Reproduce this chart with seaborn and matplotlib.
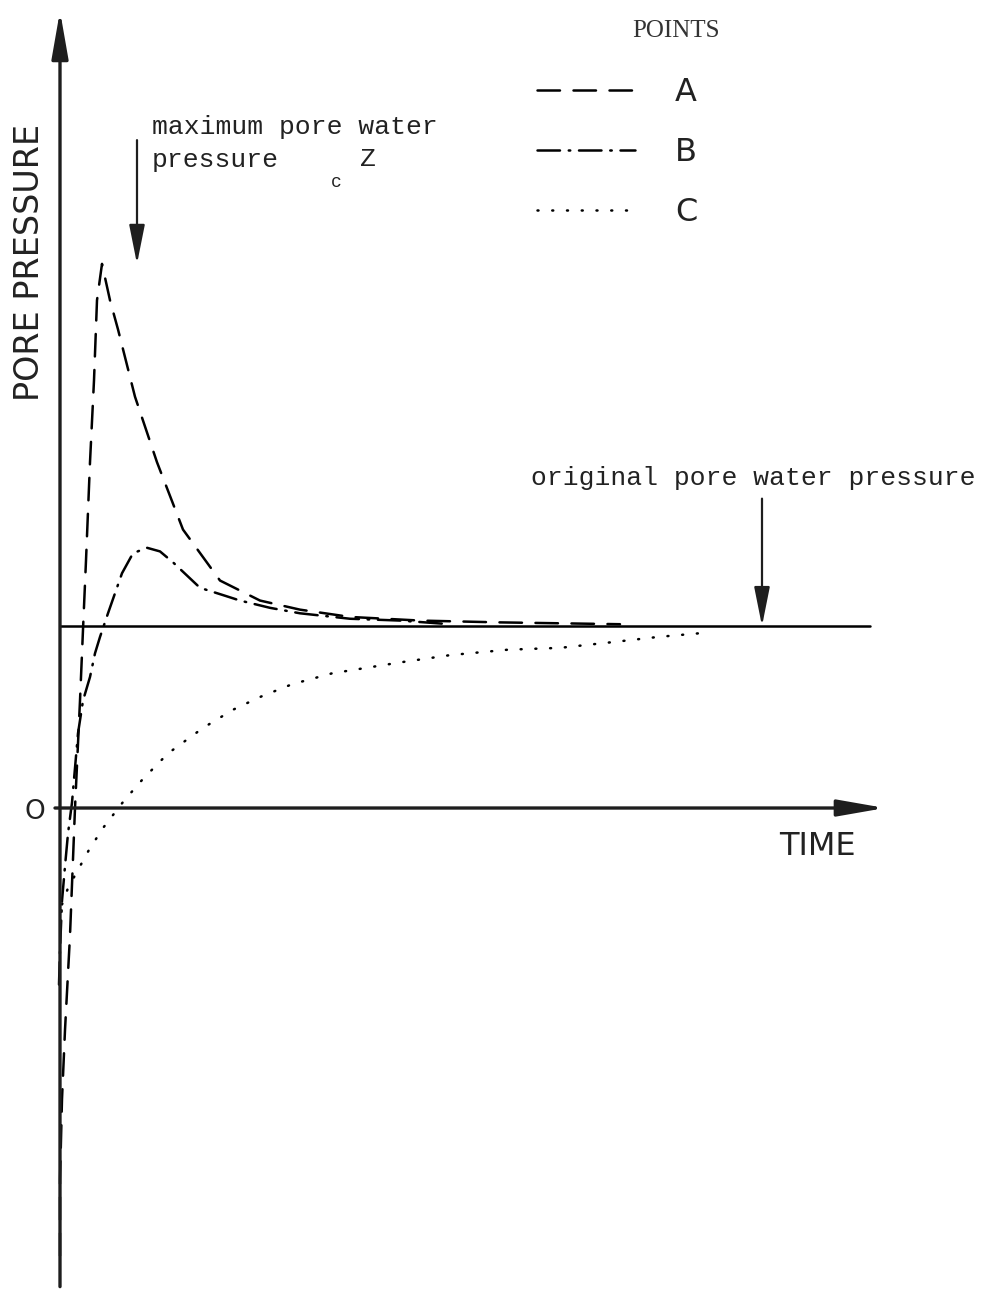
import matplotlib
matplotlib.use("Agg")
import matplotlib.pyplot as plt
import seaborn as sns
import pandas as pd
from matplotlib.lines import Line2D

# ---- data (time in arbitrary units, pressure normalised so original level = 1) ----
time_A = [0.00, 0.00, 0.02, 0.05, 0.10, 0.15, 0.20, 0.23, 0.26, 0.30, 0.34, 0.37, 0.42,
          0.50, 0.58, 0.75, 0.97, 1.23, 1.60, 2.00, 2.40, 2.90, 3.60, 4.40, 5.60]
pressure_A = [-2.46, -2.04, -1.60, -1.22, -0.70, 0.00, 0.59, 0.98, 1.36, 1.90, 2.35, 2.79, 2.99,
              2.79, 2.63, 2.26, 1.90, 1.53, 1.25, 1.14, 1.09, 1.05, 1.03, 1.02, 1.01]

time_B = [-0.01, 0.00, 0.02, 0.05, 0.08, 0.12, 0.18, 0.23, 0.30, 0.35, 0.40, 0.48, 0.62,
          0.73, 0.87, 1.00, 1.13, 1.40, 1.63, 1.80, 2.10, 2.40, 2.90, 3.40, 3.90]
pressure_B = [-0.97, -0.78, -0.51, -0.32, -0.14, 0.03, 0.41, 0.59, 0.72, 0.85, 0.94, 1.07, 1.29,
              1.40, 1.43, 1.41, 1.35, 1.21, 1.17, 1.14, 1.10, 1.07, 1.04, 1.03, 1.01]

time_C = [0.02, 0.08, 0.17, 0.29, 0.43, 0.64, 0.83, 1.08, 1.43, 1.73, 2.00, 2.32, 2.72,
          3.40, 3.90, 4.48, 5.00, 5.50, 5.98, 6.39]
pressure_C = [-0.53, -0.44, -0.35, -0.23, -0.11, 0.04, 0.16, 0.30, 0.44, 0.54, 0.61, 0.68, 0.74,
              0.80, 0.84, 0.87, 0.88, 0.91, 0.94, 0.96]

point_labels = ["A", "B", "C"]
original_level = 1.0
original_line_end = 8.1
time_axis_end = 8.25
max_marker_time = 0.77
orig_marker_time = 7.02

# ---- style ----
sns.set_theme(style="white")
plt.rcParams["font.family"] = ["DejaVu Sans"]

W, H = 986, 1293
fig = plt.figure(figsize=(W / 100, H / 100), dpi=100)
ax = fig.add_axes([0, 0, 1, 1])
ax.set_xlim(-0.6, 9.26)
ax.set_ylim(-2.665, 4.44)
ax.axis("off")

df = pd.concat([
    pd.DataFrame({"time": time_A, "pressure": pressure_A, "point": "A"}),
    pd.DataFrame({"time": time_B, "pressure": pressure_B, "point": "B"}),
    pd.DataFrame({"time": time_C, "pressure": pressure_C, "point": "C"}),
], ignore_index=True)

dash_map = {"A": (9, 5.4), "B": (9, 3.5, 0.6, 3.5), "C": (0.4, 5.5)}
sns.lineplot(data=df, x="time", y="pressure", style="point", dashes=dash_map,
             color="black", sort=False, estimator=None, lw=1.8, legend=False, ax=ax)
for ln in ax.lines:
    ln.set_dash_capstyle("round")

# original pore water pressure line
ax.plot([0, original_line_end], [original_level, original_level], color="black", lw=1.8)

# axes with arrows
ax.annotate("", xy=(0, 4.38), xytext=(0, -2.63),
            arrowprops=dict(arrowstyle="-|>,head_length=2.4,head_width=0.42",
                            lw=2.4, color="#1e1e1e", shrinkA=0, shrinkB=0))
ax.annotate("", xy=(time_axis_end, 0), xytext=(-0.05, 0),
            arrowprops=dict(arrowstyle="-|>,head_length=2.4,head_width=0.42",
                            lw=2.4, color="#1e1e1e", shrinkA=0, shrinkB=0))

# annotation arrows
ax.annotate("", xy=(max_marker_time, 2.99), xytext=(max_marker_time, 3.67),
            arrowprops=dict(arrowstyle="-|>,head_length=2.0,head_width=0.4",
                            lw=1.6, color="#1e1e1e", shrinkA=0, shrinkB=0))
ax.annotate("", xy=(orig_marker_time, original_level), xytext=(orig_marker_time, 1.70),
            arrowprops=dict(arrowstyle="-|>,head_length=2.0,head_width=0.4",
                            lw=1.6, color="#1e1e1e", shrinkA=0, shrinkB=0))

def fx(px):
    return px / W

def fy(py):
    return 1 - py / H

mono = "Liberation Mono"
fig.text(fx(152), fy(134), "maximum pore water", family=mono, fontsize=19, va="baseline", color="#222222")
fig.text(fx(152), fy(167), "pressure", family=mono, fontsize=19, va="baseline", color="#222222")
fig.text(fx(331), fy(187), "c", family=mono, fontsize=13, va="baseline", color="#222222")
fig.text(fx(360), fy(166), "Z", family=mono, fontsize=19, va="baseline", color="#222222")
fig.text(fx(531), fy(485), "original pore water pressure", family=mono, fontsize=19,
         va="baseline", color="#222222")

fig.text(fx(676), fy(37), "POINTS", family="Liberation Serif", fontsize=18, ha="center",
         va="baseline", color="#333333")

fig.text(fx(30), fy(262), "PORE PRESSURE", fontsize=24, rotation=90, ha="center", va="center",
         color="#222222")
fig.text(fx(817), fy(855), "TIME", fontsize=23, ha="center", va="baseline", color="#222222")
fig.text(fx(35), fy(812), "O", fontsize=19, ha="center", va="center", color="#222222")

handles = [Line2D([], [], color="black", lw=1.8, dashes=dash_map[p], dash_capstyle="round")
           for p in point_labels]
leg = ax.legend(handles, point_labels, loc="upper left",
                bbox_to_anchor=(fx(537), fy(77)), bbox_transform=fig.transFigure,
                frameon=False, fontsize=23, handlelength=3.07, handletextpad=1.25,
                labelspacing=0.91, borderpad=0, borderaxespad=0)
for t in leg.get_texts():
    t.set_color("#222222")

fig.savefig("out.png", dpi=100, facecolor="white")
